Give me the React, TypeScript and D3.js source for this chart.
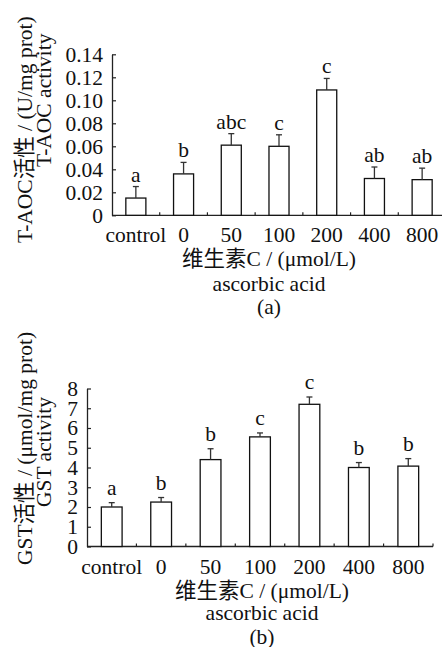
import React, { useEffect, useRef } from 'react';
import * as d3 from 'd3';

const categories = ['control', '0', '50', '100', '200', '400', '800'];

const taocValues = [0.015, 0.036, 0.061, 0.060, 0.109, 0.032, 0.031];
const taocErrors = [0.010, 0.010, 0.010, 0.010, 0.010, 0.010, 0.010];
const taocLetters = ['a', 'b', 'abc', 'c', 'c', 'ab', 'ab'];
const taocTicks = [0, 0.02, 0.04, 0.06, 0.08, 0.10, 0.12, 0.14];

const gstValues = [2.0, 2.25, 4.4, 5.55, 7.2, 4.0, 4.07];
const gstErrors = [0.22, 0.23, 0.55, 0.2, 0.37, 0.25, 0.38];
const gstLetters = ['a', 'b', 'b', 'c', 'c', 'b', 'b'];
const gstTicks = [0, 1, 2, 3, 4, 5, 6, 7, 8];

const FONT = "'Liberation Serif', 'DejaVu Serif', 'Noto Sans CJK SC', serif";
const FS = 21.5;

interface PanelOpts {
  values: number[];
  errors: number[];
  letters: string[];
  ticks: number[];
  yMax: number;
  fmt: (d: number) => string;
  x0: number;
  x1: number;
  axisEnd: number;
  yBottom: number;
  yTop: number;
  letterGap: number;
  titleX: number;
  yTitle1: string;
  yTitle2: string;
  y1Start: number;
  y2Start: number;
  tag: string;
  ascOffset: number;
  tagOffset: number;
}

const drawPanel = (svg: any, o: PanelOpts) => {
  const x = d3.scaleBand<string>()
    .domain(categories)
    .range([o.x0, o.x1])
    .paddingInner(0.58)
    .paddingOuter(0.29);

  const y = d3.scaleLinear()
    .domain([0, o.yMax])
    .range([o.yBottom, o.yTop]);

  const g = svg.append('g');

  // y axis, ticks pointing inward
  g.append('g')
    .attr('transform', `translate(${o.x0},0)`)
    .call(d3.axisLeft(y).tickValues(o.ticks).tickSize(-4).tickSizeOuter(0).tickPadding(9).tickFormat(o.fmt as any))
    .call((a: any) => a.attr('font-family', null).attr('font-size', null))
    .call((a: any) => a.select('.domain').attr('stroke', '#222').attr('stroke-width', 1.3))
    .call((a: any) => a.selectAll('line').attr('stroke', '#222').attr('stroke-width', 1.2))
    .call((a: any) => a.selectAll('text').attr('fill', '#111').style('font-family', FONT).style('font-size', `${FS}px`));

  // x axis line
  g.append('line')
    .attr('x1', o.x0)
    .attr('x2', o.axisEnd)
    .attr('y1', o.yBottom)
    .attr('y2', o.yBottom)
    .attr('stroke', '#222')
    .attr('stroke-width', 1.3);

  // ticks between categories, pointing up
  const step = x.step();
  d3.range(1, categories.length + 1).forEach(i => {
    const tx = o.x0 + i * step;
    if (tx > o.axisEnd + 0.5) return;
    g.append('line')
      .attr('x1', tx)
      .attr('x2', tx)
      .attr('y1', o.yBottom)
      .attr('y2', o.yBottom - 3)
      .attr('stroke', '#222')
      .attr('stroke-width', 1.2);
  });

  const addText = (tx: number, ty: number, s: string, anchor = 'middle') =>
    g.append('text')
      .attr('x', tx)
      .attr('y', ty)
      .attr('text-anchor', anchor)
      .style('font-family', FONT)
      .style('font-size', `${FS}px`)
      .attr('fill', '#111')
      .text(s);

  categories.forEach((c, i) => {
    const cx = (x(c) as number) + x.bandwidth() / 2;
    addText(cx, o.yBottom + 27, c);

    g.append('rect')
      .attr('x', x(c) as number)
      .attr('y', y(o.values[i]))
      .attr('width', x.bandwidth())
      .attr('height', o.yBottom - y(o.values[i]))
      .attr('fill', '#fff')
      .attr('stroke', '#111')
      .attr('stroke-width', 1.3);

    const top = y(o.values[i] + o.errors[i]);
    g.append('line')
      .attr('x1', cx)
      .attr('x2', cx)
      .attr('y1', y(o.values[i]))
      .attr('y2', top)
      .attr('stroke', '#333')
      .attr('stroke-width', 1.3);
    g.append('line')
      .attr('x1', cx - 3)
      .attr('x2', cx + 3)
      .attr('y1', top)
      .attr('y2', top)
      .attr('stroke', '#333')
      .attr('stroke-width', 1.3);

    addText(cx, top - o.letterGap, o.letters[i]);
  });

  addText(o.titleX, o.yBottom + 51, '维生素C / (μmol/L)');
  addText(o.titleX, o.yBottom + o.ascOffset, 'ascorbic acid');
  addText(o.titleX, o.yBottom + o.tagOffset, o.tag);

  addText(0, 0, o.yTitle1, 'start')
    .attr('transform', `translate(32,${o.y1Start}) rotate(-90)`);
  addText(0, 0, o.yTitle2, 'start')
    .attr('transform', `translate(51,${o.y2Start}) rotate(-90)`);
};

export default function App() {
  const svgRef = useRef<SVGSVGElement>(null);

  useEffect(() => {
    if (!svgRef.current) return;
    const svg = d3.select(svgRef.current);
    svg.selectAll('*').remove();

    drawPanel(svg, {
      values: taocValues,
      errors: taocErrors,
      letters: taocLetters,
      ticks: taocTicks,
      yMax: 0.14,
      fmt: d => (d === 0 ? '0' : d3.format('.2f')(d)),
      x0: 112,
      x1: 446,
      axisEnd: 442,
      yBottom: 215.3,
      yTop: 54.3,
      letterGap: 5,
      titleX: 269,
      yTitle1: 'T-AOC活性 / (U/mg prot)',
      yTitle2: 'T-AOC activity',
      y1Start: 243,
      y2Start: 167,
      tag: '(a)',
      ascOffset: 76,
      tagOffset: 99,
    });

    drawPanel(svg, {
      values: gstValues,
      errors: gstErrors,
      letters: gstLetters,
      ticks: gstTicks,
      yMax: 8,
      fmt: d => String(d),
      x0: 87,
      x1: 433,
      axisEnd: 433,
      yBottom: 546.5,
      yTop: 388.5,
      letterGap: 8,
      titleX: 262,
      yTitle1: 'GST活性 / (μmol/mg prot)',
      yTitle2: 'GST activity',
      y1Start: 565,
      y2Start: 507,
      tag: '(b)',
      ascOffset: 73,
      tagOffset: 97,
    });
  }, []);

  return (
    <svg
      ref={svgRef}
      width={443}
      height={647}
      style={{ position: 'absolute', left: 0, top: 0, background: '#fff', display: 'block' }}
    />
  );
}
